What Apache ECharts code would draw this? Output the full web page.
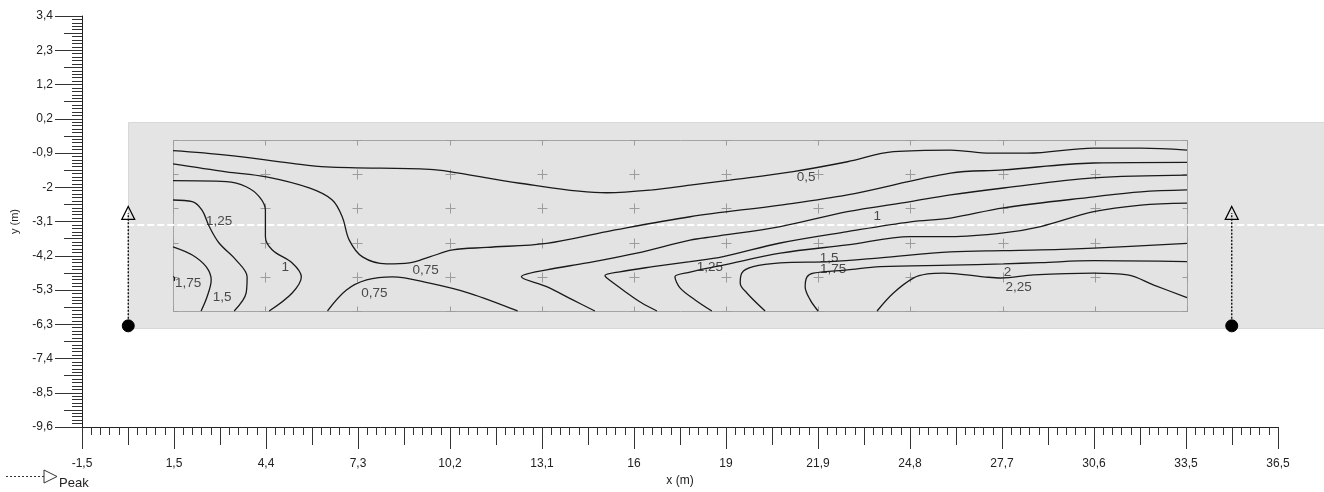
<!DOCTYPE html>
<html>
<head>
<meta charset="utf-8">
<script src="https://cdn.jsdelivr.net/npm/echarts@6/dist/echarts.min.js"></script>
<style>
html,body{margin:0;padding:0;background:#fff;}
#chart{width:1324px;height:492px;}
</style>
</head>
<body>
<div id="chart"></div>
<script>
// ---------- DATA ----------
const xTickLabels = ['-1,5','1,5','4,4','7,3','10,2','13,1','16','19','21,9','24,8','27,7','30,6','33,5','36,5'];
const yTickLabels = ['-9,6','-8,5','-7,4','-6,3','-5,3','-4,2','-3,1','-2','-0,9','0,2','1,2','2,3','3,4'];
const X_MIN = -1.467, X_MAX = 36.467, Y_MIN = -9.6, Y_MAX = 3.4;

// road band [x0, x1, y0, y1] and centre line [x0, x1, y]
const roadBand = [[0, 38, 0.05, -6.45]];
const roadCentre = [[-0.35, 38, -3.2]];

// calculation grid
const gridX = [1.42, 4.35, 7.27, 10.19, 13.12, 16.04, 18.96, 21.88, 24.81, 27.73, 30.65, 33.58];
const gridY = [-0.52, -1.6, -2.68, -3.77, -4.85, -5.93];

// luminaires [x, y] and aiming (peak) point y
const luminaires = [[0, -6.4], [35, -6.4]];
const peakY = -2.83;

// isolines
const contour050 = [[1.42,-0.86],[3.11,-1.00],[5.20,-1.26],[6.28,-1.37],[9.56,-1.45],[10.19,-1.52],[12.42,-1.89],[15.18,-2.19],[16.64,-2.10],[17.82,-1.95],[19.09,-1.79],[21.09,-1.52],[22.81,-1.21],[24.27,-0.89],[26.08,-0.84],[27.35,-0.94],[28.52,-0.94],[30.62,-0.78],[32.12,-0.78],[33.58,-0.84]];
const contour075a = [[1.42,-1.28],[3.11,-1.53],[4.38,-1.69],[5.74,-2.04],[6.47,-2.42],[6.79,-2.96],[7.01,-3.69],[7.43,-4.22],[8.19,-4.44],[8.92,-4.41],[9.56,-4.22],[10.29,-4.00],[11.37,-3.92],[13.27,-3.79],[15.18,-3.42],[17.82,-2.95],[20.68,-2.58],[22.81,-2.26],[26.08,-1.57],[27.76,-1.47],[30.62,-1.25],[33.58,-1.23]];
const contour075b = [[6.32,-5.93],[6.92,-5.27],[7.56,-4.95],[8.38,-4.85],[9.56,-5.05],[10.83,-5.37],[12.35,-5.93]];
const contour100a = [[1.42,-1.81],[3.11,-1.84],[3.74,-2.00],[4.16,-2.32],[4.35,-2.74],[4.35,-3.58],[4.57,-4.00],[5.20,-4.41],[5.49,-4.85],[5.20,-5.36],[4.47,-5.93]];
const contour100b = [[14.80,-5.93],[14.10,-5.58],[13.27,-5.16],[12.47,-4.85],[13.27,-4.63],[14.55,-4.41],[16.13,-4.10],[17.82,-3.69],[18.55,-3.58],[20.68,-3.26],[22.81,-2.79],[24.81,-2.47],[26.08,-2.26],[27.76,-2.04],[30.62,-1.72],[33.58,-1.63]];
const contour125a = [[1.42,-2.42],[2.03,-2.47],[2.34,-2.74],[2.57,-3.26],[2.88,-3.78],[3.42,-4.32],[3.77,-4.85],[3.74,-5.36],[3.36,-5.93]];
const contour125b = [[16.77,-5.93],[16.29,-5.68],[15.82,-5.36],[15.18,-4.89],[15.12,-4.81],[15.59,-4.69],[16.64,-4.53],[17.82,-4.37],[18.87,-4.21],[20.68,-3.78],[22.81,-3.42],[24.81,-3.11],[26.08,-2.99],[27.76,-2.67],[30.62,-2.32],[32.12,-2.16],[33.58,-2.10]];
const contour150a = [[1.42,-3.90],[2.03,-4.16],[2.47,-4.53],[2.63,-4.95],[2.50,-5.48],[2.31,-5.93]];
const contour150b = [[18.51,-5.93],[17.98,-5.58],[17.50,-5.20],[17.34,-4.85],[17.82,-4.70],[18.87,-4.48],[20.68,-4.10],[22.81,-3.84],[24.81,-3.58],[26.08,-3.58],[27.76,-3.46],[28.94,-3.26],[30.62,-2.79],[32.12,-2.58],[33.58,-2.52]];
const contour175a = [[1.42,-4.84],[1.47,-4.88],[1.46,-4.98]];
const contour175b = [[20.20,-5.93],[19.62,-5.36],[19.41,-5.05],[19.46,-4.73],[19.82,-4.53],[20.68,-4.41],[22.27,-4.37],[23.85,-4.25],[26.08,-4.06],[27.76,-4.02],[28.94,-4.00],[30.62,-3.94],[33.58,-3.79]];
const contour200 = [[21.88,-5.93],[21.63,-5.58],[21.47,-5.16],[21.53,-4.85],[21.73,-4.73],[22.81,-4.63],[23.85,-4.53],[26.08,-4.48],[27.76,-4.44],[28.94,-4.40],[30.62,-4.34],[33.58,-4.37]];
const contour225 = [[23.75,-5.93],[24.27,-5.36],[24.90,-4.89],[25.35,-4.76],[25.86,-4.73],[27.13,-4.85],[27.67,-4.89],[28.72,-4.79],[30.62,-4.73],[31.70,-4.79],[32.53,-5.11],[33.58,-5.51]];

// isoline labels
const contourLabelText = ['0,5','0,75','0,75','1','1,25','1,5','1,75','1,25','1','1,5','1,75','2','2,25'];
const contourLabelPos = [[21.50,-1.69],[9.43,-4.63],[7.81,-5.36],[4.98,-4.54],[2.88,-3.08],[2.98,-5.49],[1.90,-5.05],[18.45,-4.54],[23.76,-2.93],[22.23,-4.25],[22.36,-4.60],[27.89,-4.70],[28.24,-5.17]];

// ---------- BUILD ----------
const FONT = 'Liberation Sans, Arial, sans-serif';
const nX = xTickLabels.length - 1, nY = yTickLabels.length - 1;
const xStep = (X_MAX - X_MIN) / nX;
const yStep = (Y_MAX - Y_MIN) / nY;
const xMajor = xTickLabels.map((_, i) => i === nX ? X_MAX : X_MIN + i * xStep);
const yMajor = yTickLabels.map((_, i) => i === nY ? Y_MAX : Y_MIN + i * yStep);
const xMinor = [], xMid = [], yMinor = [], yMid = [];
for (let k = 0; k < nX; k++) for (let j = 1; j < 10; j++) (j === 5 ? xMid : xMinor).push(X_MIN + (k + j / 10) * xStep);
for (let k = 0; k < nY; k++) for (let j = 1; j < 10; j++) (j === 5 ? yMid : yMinor).push(Y_MIN + (k + j / 10) * yStep);

function nearestLabel(vals, labels, v) {
  let b = 0;
  for (let i = 1; i < vals.length; i++) if (Math.abs(vals[i] - v) < Math.abs(vals[b] - v)) b = i;
  return labels[b];
}

function makeX(ticks, len, main) {
  return {
    type: 'value', min: X_MIN, max: X_MAX, position: 'bottom', gridIndex: 0,
    axisLine: { show: main, onZero: false, lineStyle: { color: '#222', width: 1 } },
    axisTick: { show: true, customValues: ticks, length: len, lineStyle: { color: '#333', width: 1 } },
    axisLabel: main ? { show: true, customValues: ticks, margin: 31, color: '#222', fontSize: 12, fontFamily: FONT,
      showMinLabel: true, showMaxLabel: true,
      formatter: v => nearestLabel(xMajor, xTickLabels, v) } : { show: false },
    splitLine: { show: false },
    name: main ? 'x (m)' : '', nameLocation: 'middle', nameGap: 48,
    nameTextStyle: { color: '#222', fontSize: 12, fontFamily: FONT }
  };
}
function makeY(ticks, len, main) {
  return {
    type: 'value', min: Y_MIN, max: Y_MAX, position: 'left', gridIndex: 0,
    axisLine: { show: main, onZero: false, lineStyle: { color: '#222', width: 1 } },
    axisTick: { show: true, customValues: ticks, length: len, lineStyle: { color: '#333', width: 1 } },
    axisLabel: main ? { show: true, customValues: ticks, margin: 29, color: '#222', fontSize: 12, fontFamily: FONT,
      showMinLabel: true, showMaxLabel: true,
      formatter: v => nearestLabel(yMajor, yTickLabels, v) } : { show: false },
    splitLine: { show: false },
    name: main ? 'y (m)' : '', nameLocation: 'middle', nameGap: 62,
    nameTextStyle: { color: '#222', fontSize: 11, fontFamily: FONT }
  };
}

const gridNodes = [];
gridX.forEach(x => gridY.forEach(y => gridNodes.push([x, y])));

const contourPieces = [contour050, contour075a, contour075b, contour100a, contour100b, contour125a, contour125b,
  contour150a, contour150b, contour175a, contour175b, contour200, contour225];

const px = v => Math.round(v) + 0.5;
const series = [];
// road band
series.push({
  type: 'custom', clip: false, z: 1, silent: true, data: roadBand,
  renderItem: (p, api) => {
    const a = api.coord([api.value(0), api.value(2)]);
    const b = api.coord([api.value(1), api.value(3)]);
    return { type: 'rect', shape: { x: px(a[0]), y: px(a[1]), width: Math.round(b[0] - a[0]), height: Math.round(b[1] - a[1]) },
      style: { fill: '#e4e4e4', stroke: '#d8d8d8', lineWidth: 1 } };
  }
});
// calculation field rectangle
series.push({
  type: 'custom', clip: false, z: 2, silent: true,
  data: [[gridX[0], gridX[gridX.length - 1], gridY[0], gridY[gridY.length - 1]]],
  renderItem: (p, api) => {
    const a = api.coord([api.value(0), api.value(2)]);
    const b = api.coord([api.value(1), api.value(3)]);
    return { type: 'rect', shape: { x: px(a[0]), y: px(a[1]), width: Math.round(b[0] - a[0]), height: Math.round(b[1] - a[1]) },
      style: { fill: '#e3e3e3', stroke: '#a4a4a4', lineWidth: 1 } };
  }
});
// grid crosses
series.push({
  type: 'custom', clip: false, z: 3, silent: true, data: gridNodes,
  renderItem: (p, api) => {
    const c = api.coord([api.value(0), api.value(1)]);
    const tl = api.coord([gridX[0], gridY[0]]);
    const br = api.coord([gridX[gridX.length - 1], gridY[gridY.length - 1]]);
    const cx = px(c[0]), cy = px(c[1]), a = 5;
    const L = px(tl[0]), R = px(br[0]), T = px(tl[1]), B = px(br[1]);
    const st = { stroke: '#9c9c9c', lineWidth: 1 };
    return { type: 'group', children: [
      { type: 'line', shape: { x1: Math.max(cx - a, L), y1: cy, x2: Math.min(cx + a, R), y2: cy }, style: st },
      { type: 'line', shape: { x1: cx, y1: Math.max(cy - a, T), x2: cx, y2: Math.min(cy + a, B) }, style: st }
    ] };
  }
});
// road centre line
series.push({
  type: 'custom', clip: false, z: 4, silent: true, data: roadCentre,
  renderItem: (p, api) => {
    const a = api.coord([api.value(0), api.value(2)]);
    const b = api.coord([api.value(1), api.value(2)]);
    return { type: 'line', shape: { x1: a[0], y1: Math.round(a[1]), x2: b[0], y2: Math.round(b[1]) },
      style: { stroke: '#ffffff', lineWidth: 2, lineDash: [7, 3] } };
  }
});
// isolines
contourPieces.forEach(piece => series.push({
  type: 'line', z: 5, silent: true, data: piece, symbol: 'none', showSymbol: false, smooth: 0.35,
  lineStyle: { color: '#1a1a1a', width: 1.3 }
}));
// isoline labels
series.push({
  type: 'scatter', z: 6, silent: true, symbolSize: 0,
  data: contourLabelPos.map((p, i) => ({ value: p, name: contourLabelText[i] })),
  label: { show: true, position: 'inside', formatter: '{b}', color: '#222', fontSize: 13.5, fontFamily: FONT }
});
// luminaires with peak direction
luminaires.forEach(l => series.push({
  type: 'line', z: 7, silent: true, clip: false,
  data: [
    { value: l, symbol: 'circle', symbolSize: 12, itemStyle: { color: '#000', borderColor: '#000' } },
    { value: [l[0], peakY], symbol: 'triangle', symbolSize: [13, 13], itemStyle: { color: 'rgba(0,0,0,0)', borderColor: '#000', borderWidth: 1.2 } }
  ],
  showSymbol: true, lineStyle: { color: '#000', width: 1.3, type: [2, 1.5] }
}));

const chart = echarts.init(document.getElementById('chart'), null, { renderer: 'canvas' });
chart.setOption({
  animation: false,
  backgroundColor: '#ffffff',
  grid: { left: 82, right: 46, top: 16, bottom: 65, containLabel: false },
  xAxis: [makeX(xMajor, 22, true), makeX(xMinor, 8, false), makeX(xMid, 18, false)],
  yAxis: [makeY(yMajor, 27, true), makeY(yMinor, 10, false), makeY(yMid, 18, false)],
  graphic: [
    { type: 'line', shape: { x1: 6, y1: 476.5, x2: 44, y2: 476.5 }, style: { stroke: '#333', lineWidth: 1, lineDash: [2, 2] } },
    { type: 'polygon', shape: { points: [[44, 470], [57, 476.5], [44, 483]] }, style: { fill: '#fff', stroke: '#333', lineWidth: 1 } },
    { type: 'text', left: 59, top: 477, style: { text: 'Peak', fill: '#222', fontSize: 13, fontFamily: FONT } }
  ],
  series: series
});
</script>
</body>
</html>
